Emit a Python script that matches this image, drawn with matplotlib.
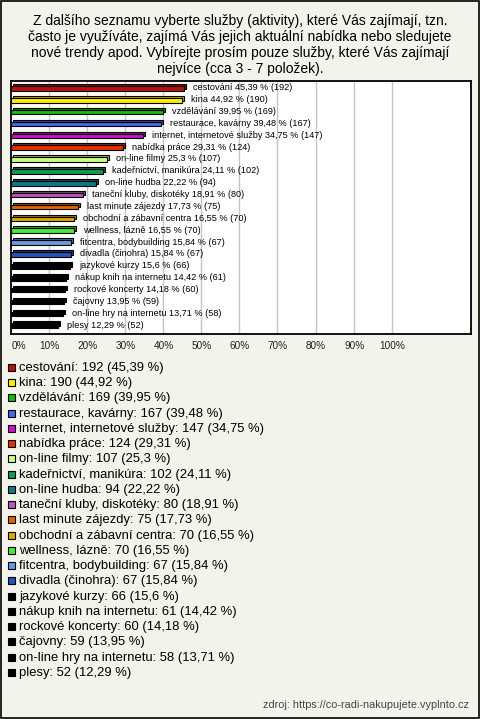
import matplotlib
matplotlib.use("Agg")
import matplotlib.pyplot as plt
from matplotlib.patches import Rectangle
import matplotlib.colors as mcolors

categories = ["cestování", "kina", "vzdělávání", "restaurace, kavárny",
              "internet, internetové služby", "nabídka práce", "on-line filmy",
              "kadeřnictví, manikúra", "on-line hudba", "taneční kluby, diskotéky",
              "last minute zájezdy", "obchodní a zábavní centra", "wellness, lázně",
              "fitcentra, bodybuilding", "divadla (činohra)", "jazykové kurzy",
              "nákup knih na internetu", "rockové koncerty", "čajovny",
              "on-line hry na internetu", "plesy"]
counts = [192, 190, 169, 167, 147, 124, 107, 102, 94, 80, 75, 70, 70, 67, 67,
          66, 61, 60, 59, 58, 52]
percents = [45.39, 44.92, 39.95, 39.48, 34.75, 29.31, 25.3, 24.11, 22.22, 18.91,
            17.73, 16.55, 16.55, 15.84, 15.84, 15.6, 14.42, 14.18, 13.95, 13.71, 12.29]
pct_labels = ["45,39", "44,92", "39,95", "39,48", "34,75", "29,31", "25,3", "24,11",
              "22,22", "18,91", "17,73", "16,55", "16,55", "15,84", "15,84", "15,6",
              "14,42", "14,18", "13,95", "13,71", "12,29"]
colors = ["#bb1100", "#ffee00", "#11bb11", "#4466ee", "#cc11cc", "#dd3300",
          "#ccff88", "#119955", "#117788", "#bb55bb", "#dd6600", "#ddaa00",
          "#44ee33", "#6699dd", "#2255bb", "#000000", "#000000", "#000000",
          "#000000", "#000000", "#000000"]
xticks = [0, 10, 20, 30, 40, 50, 60, 70, 80, 90, 100]
title = ("Z dalšího seznamu vyberte služby (aktivity), které Vás zajímají, tzn.\n"
         "často je využíváte, zajímá Vás jejich aktuální nabídka nebo sledujete\n"
         "nové trendy apod. Vybírejte prosím pouze služby, které Vás zajímají\n"
         "nejvíce (cca 3 - 7 položek).")
source = "zdroj: https://co-radi-nakupujete.vyplnto.cz"

BG = "#f3f3eb"
W, H = 480, 719
fig = plt.figure(figsize=(W / 100, H / 100), dpi=100, facecolor=BG)

# overlay axes in pixel coords for frame, title, legend
ov = fig.add_axes([0, 0, 1, 1], zorder=0)
ov.set_xlim(0, W)
ov.set_ylim(H, 0)
ov.axis("off")
ov.add_patch(Rectangle((0.5, 0.5), W - 1.5, H - 1.5, fill=False, ec="black", lw=1.2))

ov.text(240, 45, title, ha="center", va="center", fontsize=10,
        family="Liberation Sans", linespacing=1.18)

# main chart axes
ax_left, ax_right, ax_top, ax_bot = 11, 470.5, 81, 334
ax = fig.add_axes([ax_left / W, 1 - ax_bot / H, (ax_right - ax_left) / W,
                   (ax_bot - ax_top) / H], zorder=1)
ax.set_facecolor("white")
n = len(categories)
ax.set_xlim(0, 120.7)
ax.set_ylim(n - 0.3, -0.62)
for s in ax.spines.values():
    s.set_linewidth(1.3)
    s.set_color("black")
ax.set_xticks([])
ax.set_yticks([])
ax.vlines(xticks[1:], n - 0.3, -0.62, colors="#c4c4c4", lw=1.0, zorder=1.5)

px_x = 120.7 / (ax_right - ax_left)
px_y = (n - 0.3 + 0.62) / (ax_bot - ax_top)
bh = 4.6 * px_y
dx, dy = 2.0 * px_x, 2.0 * px_y
for i, (p, c) in enumerate(zip(percents, colors)):
    rgb = mcolors.to_rgb(c)
    dark = tuple(v * 0.7 for v in rgb)
    ax.barh(i - dy, p, height=bh, left=dx, color=dark, edgecolor="black",
            lw=0.8, zorder=2)
    ax.barh(i, p, height=bh, left=0, color=c, edgecolor="black", lw=0.8, zorder=3)
    ax.text(p + 9 * px_x, i - 0.05,
            f"{categories[i]} {pct_labels[i]} % ({counts[i]})",
            ha="left", va="center", fontsize=6.6, family="Liberation Sans",
            zorder=4)

# x tick labels below the box
for t in xticks:
    x = ax_left + 0.5 + t / px_x
    if t == 0:
        x = 18.5
    ov.text(x, 346, f"{t}%", ha="center", va="center", fontsize=7.2,
            family="Liberation Sans", color="#222222")

# legend
y0, pitch = 368, 15.24
for i in range(n):
    y = y0 + i * pitch
    ov.add_patch(Rectangle((8, y - 4), 7, 7, facecolor=colors[i],
                           edgecolor="black", lw=0.8))
    ov.text(19, y, f"{categories[i]}: {counts[i]} ({pct_labels[i]} %)",
            ha="left", va="center", fontsize=9.4, family="Liberation Sans")

ov.text(469, 705, source, ha="right", va="center", fontsize=7.8,
        family="Liberation Sans", color="#444444")

fig.savefig("out.png", dpi=100, facecolor=BG)
